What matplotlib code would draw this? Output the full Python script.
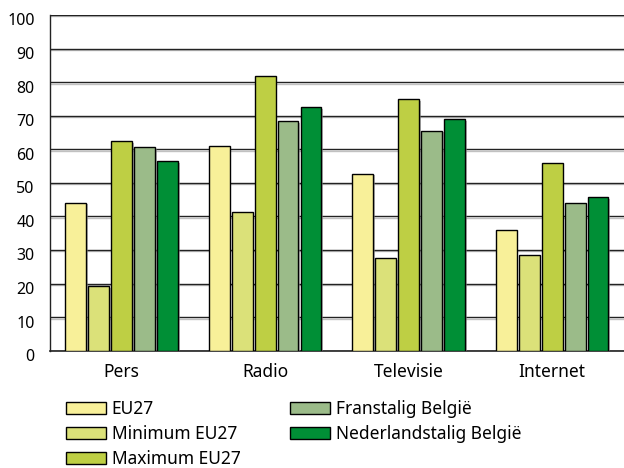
import matplotlib
matplotlib.use("Agg")
import matplotlib.pyplot as plt
import matplotlib.patheffects as pe
import matplotlib.transforms as mtransforms
import numpy as np

categories = ["Pers", "Radio", "Televisie", "Internet"]
series_names = ["EU27", "Minimum EU27", "Maximum EU27", "Franstalig België", "Nederlandstalig België"]
eu27 = [44.1, 61.0, 52.7, 35.9]
min_eu27 = [19.3, 41.3, 27.5, 28.4]
max_eu27 = [62.4, 81.9, 75.0, 55.9]
franstalig = [60.6, 68.4, 65.5, 44.0]
nederlandstalig = [56.5, 72.6, 68.9, 45.7]
yticks = [0, 10, 20, 30, 40, 50, 60, 70, 80, 90, 100]

colors = ["#F8F099", "#DBE179", "#BECF44", "#9BBB89", "#008F36"]
series = [eu27, min_eu27, max_eu27, franstalig, nederlandstalig]

plt.rcParams['font.family'] = ['Noto Sans', 'DejaVu Sans']
fs = 12.5
fs_y = 11.5

fig = plt.figure(figsize=(6.24, 4.68), dpi=100)
ax = fig.add_axes([0.080, 0.2506, 0.92, 0.7174])

x = np.arange(len(categories))
step = 0.16
width = 0.144
shadow = [pe.SimplePatchShadow(offset=(1.2, -1.2), shadow_rgbFace='#888888', alpha=0.6), pe.Normal()]
handles = []
for i, (vals, c, name) in enumerate(zip(series, colors, series_names)):
    bars = ax.bar(x + (i - 2) * step, vals, width=width, color=c, edgecolor='black',
                  linewidth=1.0, label=name, zorder=3)
    for b in bars:
        b.set_path_effects(shadow)
    handles.append(bars)

ax.set_xlim(-0.5, 3.5)
ax.set_ylim(0, 100)
ax.set_yticks(yticks)
ax.set_yticklabels([str(t) for t in yticks], fontsize=fs_y)
ax.set_xticks(x)
ax.set_xticklabels(categories, fontsize=fs)
ax.tick_params(axis='y', length=0, pad=11)
ax.tick_params(axis='x', length=0, pad=9)
offset = mtransforms.ScaledTranslation(0, -4.5 / 100, fig.dpi_scale_trans)
for lbl in ax.get_yticklabels():
    lbl.set_transform(lbl.get_transform() + offset)
for s in ['top', 'right']:
    ax.spines[s].set_visible(False)
ax.spines['left'].set_color('#222222')
ax.spines['bottom'].set_color('#222222')
ax.spines['left'].set_linewidth(1.0)
ax.spines['bottom'].set_linewidth(1.2)
ax.yaxis.grid(True, color='#222222', linewidth=1.0, zorder=0,
              path_effects=[pe.SimpleLineShadow(offset=(0, -1), shadow_color='#999999', alpha=0.6), pe.Normal()])
ax.set_axisbelow(True)

leg = fig.legend(handles=handles, labels=series_names, ncol=2, loc='upper left',
                 bbox_to_anchor=(0.1058, 0.1455), bbox_transform=fig.transFigure,
                 frameon=False, fontsize=fs, handlelength=2.3, handleheight=0.72,
                 handletextpad=0.33, columnspacing=2.85, labelspacing=0.40, borderpad=0,
                 borderaxespad=0)
for h in leg.legend_handles:
    h.set_path_effects([])

fig.savefig("out.png", dpi=100)
